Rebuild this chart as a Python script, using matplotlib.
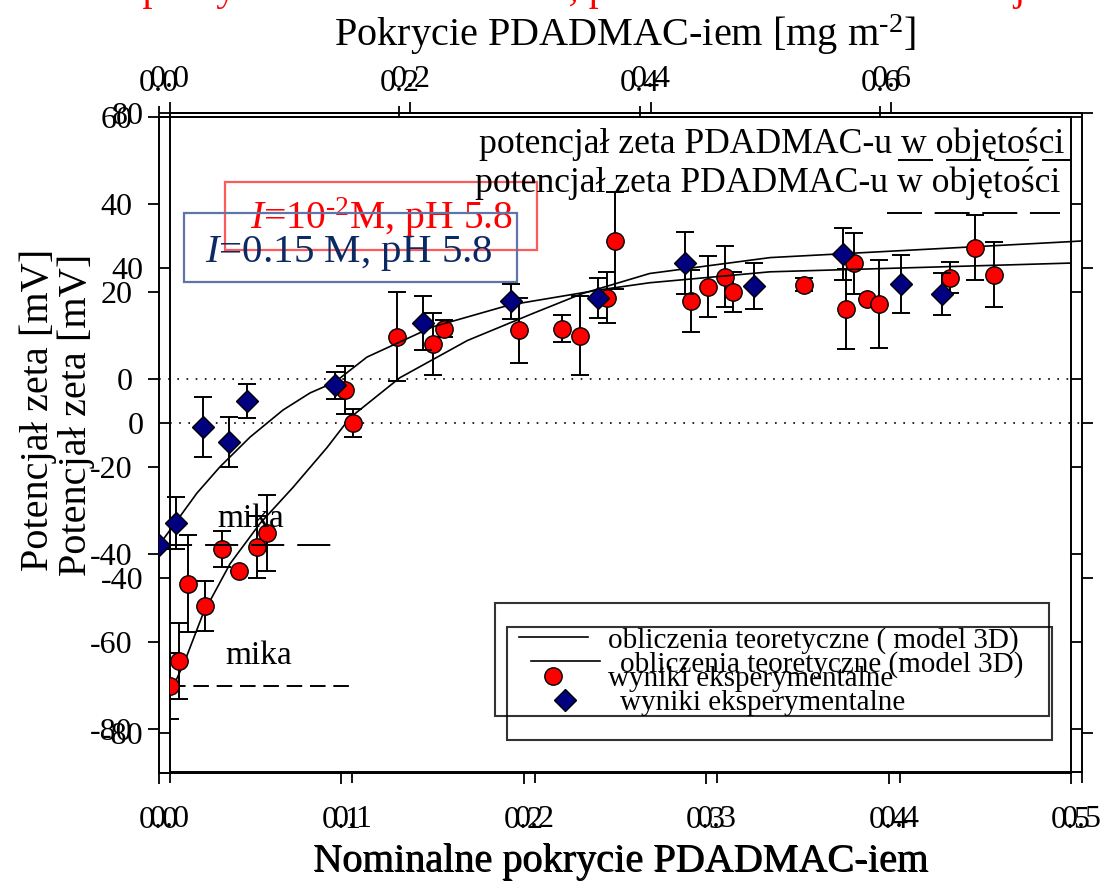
import numpy as np
import matplotlib.pyplot as plt
from matplotlib.patches import Rectangle
from matplotlib.ticker import StrMethodFormatter

plt.rcParams['font.family'] = ['Liberation Serif', 'DejaVu Serif']
plt.rcParams['mathtext.fontset'] = 'custom'
plt.rcParams['mathtext.rm'] = 'Liberation Serif'
plt.rcParams['mathtext.it'] = 'Liberation Serif:italic'
plt.rcParams['axes.unicode_minus'] = False

# I = 0.15 M, pH 5.8 (niebieskie)
x_blue = [0.0, 0.0093, 0.0241, 0.0384, 0.0482, 0.0965, 0.1447, 0.193, 0.2407,
          0.2884, 0.3262, 0.375, 0.4068, 0.4293]
zeta_blue = [-37.9, -32.9, -10.9, -14.3, -4.9, -1.3, 12.9, 17.9, 18.6,
             26.6, 21.4, 28.7, 21.8, 19.5]
err_blue = [0.0, 5.9, 6.9, 5.8, 3.9, 3.1, 6.2, 4.0, 4.5, 7.0, 5.3, 5.9, 6.6, 4.8]
model_x_blue = [0.0, 0.0093, 0.0208, 0.0334, 0.0499, 0.068, 0.0828, 0.0965, 0.114,
                0.150, 0.192, 0.242, 0.269, 0.335, 0.5]
model_blue = [-37.9, -32.6, -26.0, -20.0, -13.2, -7.0, -3.1, -0.6, 5.1,
              12.0, 17.0, 20.5, 22.1, 24.6, 26.6]

# I = 10^-2 M, pH 5.8 (czerwone)
x_red = [0.0, 0.0049, 0.0099, 0.0192, 0.0285, 0.0378, 0.0477, 0.0532, 0.0959, 0.1003,
         0.1245, 0.1442, 0.1502, 0.1913, 0.2149, 0.2248, 0.2396, 0.244, 0.2856, 0.295,
         0.3043, 0.3087, 0.3476, 0.3706, 0.375, 0.3821, 0.3887, 0.4276, 0.4413, 0.4518]
zeta_red = [-67.7, -61.3, -41.4, -47.1, -32.4, -38.1, -31.9, -28.3, 8.6, 0.1,
            22.3, 20.3, 24.4, 23.9, 24.4, 22.6, 32.4, 47.1, 31.6, 35.2,
            37.8, 33.9, 35.7, 29.5, 41.2, 32.1, 30.8, 37.5, 45.3, 38.3]
err_red = [8.5, 9.8, 12.6, 6.4, 4.6, 0.0, 8.0, 9.8, 6.2, 3.6,
           11.5, 8.0, 2.2, 8.3, 3.6, 10.1, 6.5, 12.5, 8.0, 7.9,
           7.9, 5.2, 1.7, 10.3, 7.9, 0.0, 11.4, 4.0, 8.5, 8.4]
model_x_red = [0.0, 0.0027, 0.0082, 0.0181, 0.0329, 0.0493, 0.0674, 0.0861, 0.0987,
               0.126, 0.163, 0.199, 0.226, 0.263, 0.329, 0.493, 0.5]
model_red = [-70.0, -67.0, -61.3, -49.2, -36.3, -25.9, -16.6, -6.3, 1.4,
             11.7, 21.3, 28.3, 33.4, 38.6, 42.7, 46.8, 47.0]

mica_blue = -37.9
mica_red = -67.7
bulk_blue = 50.2
bulk_red = 54.1

x_ticks = [0.0, 0.1, 0.2, 0.3, 0.4, 0.5]
top_ticks = [0.0, 0.2, 0.4, 0.6]
y_ticks_blue = [60, 40, 20, 0, -20, -40, -60, -80]
y_ticks_red = [80, 40, 0, -40, -80]
mg_per_nominal = 1.517

fig = plt.figure(figsize=(11.03, 8.85), dpi=100)
fig.text(0.5, 1.0, 'Zależność potencjału zeta miki od pokrycia PDADMAC-iem, porównanie dla '
         'dwóch sił jonowych (I = 10-2 M, 0.15 M)', color='red', fontsize=29,
         ha='center', va='baseline')

ax_r = fig.add_axes([170 / 1103, 113 / 885, 912 / 1103, 659 / 885])
ax_b = fig.add_axes([159 / 1103, 112 / 885, 912 / 1103, 656 / 885])


def setup(ax, yticks, ytop):
    ax.set_facecolor('none')
    ax.set_xlim(0, 0.5)
    ax.set_ylim(-90, ytop)
    ax.set_xticks(x_ticks)
    ax.set_yticks(yticks)
    ax.xaxis.set_major_formatter(StrMethodFormatter('{x:.1f}'))
    ax.yaxis.set_major_formatter(StrMethodFormatter('{x:.0f}'))
    ax.tick_params(direction='out', length=8, width=1.3, labelsize=23,
                   right=True, top=False)
    ax.tick_params(axis='x', pad=16)
    ax.tick_params(axis='y', pad=11)
    for sp in ax.spines.values():
        sp.set_linewidth(1.4)
    sec = ax.secondary_xaxis('top', functions=(lambda v: v * mg_per_nominal,
                                               lambda v: v / mg_per_nominal))
    sec.set_xticks(top_ticks)
    sec.xaxis.set_major_formatter(StrMethodFormatter('{x:.1f}'))
    sec.tick_params(direction='out', length=8, width=1.3, labelsize=23, pad=6)
    sec.spines['top'].set_linewidth(1.4)
    ax.axhline(0, color='black', lw=1.2, ls=(0, (1, 4.5)))
    return sec


sec_r = setup(ax_r, y_ticks_red, 80)
sec_b = setup(ax_b, y_ticks_blue, 60)

# czerwony wykres
line_r, = ax_r.plot(model_x_red, model_red, color='black', lw=1.2, zorder=2)
ax_r.errorbar(x_red, zeta_red, yerr=err_red, fmt='none', ecolor='black',
              elinewidth=1.4, capsize=6.5, capthick=1.4, zorder=2)
pts_r, = ax_r.plot(x_red, zeta_red, 'o', ms=12.5, mfc='#ff0000', mec='black',
                   mew=1.0, ls='none', zorder=3)
ax_r.plot([0.0, 0.1], [mica_red] * 2, color='black', lw=1.4, ls=(0, (8, 4)))
ax_r.plot([0.393, 0.488], [bulk_red] * 2, color='black', lw=1.4, ls=(0, (18, 6.5)))
ax_r.text(0.0302, -62.1, 'mika', fontsize=24, ha='left', va='baseline')
ax_r.text(0.488, 59.5, 'potencjał zeta PDADMAC-u w objętości', fontsize=25.7,
          ha='right', va='baseline')
ax_r.text(0.116, 50.2, r'$\mathit{I}$=10$^{\text{-2}}$M, pH 5.8', color='#ff0000',
          fontsize=28.5, ha='center', va='baseline')
ax_r.add_patch(Rectangle((0.0603, 0.792), 0.3421, 0.103, transform=ax_r.transAxes,
                         fill=False, ec='#ff5a5a', lw=1.6, clip_on=False))
ax_r.set_ylabel('Potencjał zeta [mV]', fontsize=29)
ax_r.yaxis.set_label_coords(-0.0825, 0.5417)
ax_r.set_xlabel('Nominalne pokrycie PDADMAC-iem', fontsize=29)
ax_r.xaxis.set_label_coords(0.4956, -0.109)
leg_r = ax_r.legend([line_r, pts_r],
                    ['obliczenia teoretyczne ( model 3D)', 'wyniki eksperymentalne'],
                    loc='upper left', bbox_to_anchor=(495 / 1103, 1 - 603 / 885, 554 / 1103, 0),
                    bbox_transform=fig.transFigure, mode='expand', borderaxespad=0,
                    fontsize=21, fancybox=False, edgecolor='black', facecolor='none',
                    framealpha=None, borderpad=0.82, labelspacing=0.4,
                    handlelength=2.37, handletextpad=0.69)
leg_r.get_frame().set_linewidth(1.5)

# niebieski wykres
line_b, = ax_b.plot(model_x_blue, model_blue, color='black', lw=1.2, zorder=2)
ax_b.errorbar(x_blue, zeta_blue, yerr=err_blue, fmt='none', ecolor='black',
              elinewidth=1.4, capsize=6.5, capthick=1.4, zorder=2)
pts_b, = ax_b.plot(x_blue, zeta_blue, 'D', ms=11.5, mfc='#000080', mec='black',
                   mew=1.0, ls='none', zorder=3)
ax_b.plot([0.0, 0.095], [mica_blue] * 2, color='black', lw=1.4, ls=(0, (17, 6.7)))
ax_b.plot([0.405, 0.5], [bulk_blue] * 2, color='black', lw=1.4, ls=(0, (18, 6.7)))
ax_b.text(0.0318, -33.8, 'mika', fontsize=24, ha='left', va='baseline')
ax_b.text(0.4962, 51.8, 'potencjał zeta PDADMAC-u w objętości', fontsize=25.7,
          ha='right', va='baseline')
ax_b.text(0.1039, 26.9, r'$\mathit{I}$=0.15 M, pH 5.8', color='#0b2a63',
          fontsize=29.5, ha='center', va='baseline')
ax_b.add_patch(Rectangle((0.0274, 0.7485), 0.3651, 0.1052, transform=ax_b.transAxes,
                         fill=False, ec='#5f74a8', lw=1.6, clip_on=False))
ax_b.set_ylabel('Potencjał zeta [mV]', fontsize=29)
ax_b.yaxis.set_label_coords(-0.112, 0.5534)
ax_b.set_xlabel('Nominalne pokrycie PDADMAC-iem', fontsize=29)
ax_b.xaxis.set_label_coords(0.5055, -0.1067)
sec_b.set_xlabel(r'Pokrycie PDADMAC-iem [mg m$^{\text{-2}}$]', fontsize=29, labelpad=16)
sec_b.xaxis.label.set_x(0.511)
leg_b = ax_b.legend([line_b, pts_b],
                    ['obliczenia teoretyczne (model 3D)', 'wyniki eksperymentalne'],
                    loc='upper left', bbox_to_anchor=(507 / 1103, 1 - 627 / 885, 545 / 1103, 0),
                    bbox_transform=fig.transFigure, mode='expand', borderaxespad=0,
                    fontsize=21, fancybox=False, edgecolor='black', facecolor='none',
                    framealpha=None, borderpad=0.82, labelspacing=0.4,
                    handlelength=2.37, handletextpad=0.69)
leg_b.get_frame().set_linewidth(1.5)

fig.savefig('out.png', dpi=100)
